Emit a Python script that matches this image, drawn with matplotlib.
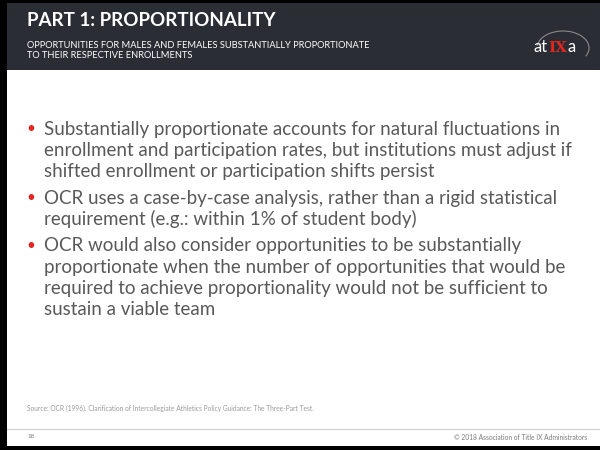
import matplotlib
matplotlib.use("Agg")
from matplotlib import pyplot as plt
from matplotlib.patches import Rectangle, Arc

title = "PART 1: PROPORTIONALITY"
subtitle = ["OPPORTUNITIES FOR MALES AND FEMALES SUBSTANTIALLY PROPORTIONATE",
            "TO THEIR RESPECTIVE ENROLLMENTS"]
bullets = [
    ["Substantially proportionate accounts for natural fluctuations in",
     "enrollment and participation rates, but institutions must adjust if",
     "shifted enrollment or participation shifts persist"],
    ["OCR uses a case-by-case analysis, rather than a rigid statistical",
     "requirement (e.g.: within 1% of student body)"],
    ["OCR would also consider opportunities to be substantially",
     "proportionate when the number of opportunities that would be",
     "required to achieve proportionality would not be sufficient to",
     "sustain a viable team"],
]
source = "Source: OCR (1996). Clarification of Intercollegiate Athletics Policy Guidance: The Three-Part Test."
page = "18"
copyright = "\u00a9 2018 Association of Title IX Administrators"

plt.rcParams['font.family'] = ['Lato', 'DejaVu Sans']

fig = plt.figure(figsize=(6, 4.5), dpi=100)
ax = fig.add_axes([0, 0, 1, 1])
ax.set_xlim(0, 600)
ax.set_ylim(450, 0)
ax.axis('off')

# frame and header
ax.add_patch(Rectangle((0, 0), 600, 450, facecolor='black', edgecolor='none'))
ax.add_patch(Rectangle((7, 3), 593, 443, facecolor='white', edgecolor='none'))
ax.add_patch(Rectangle((7, 3), 593, 67, facecolor='#2b2d35', edgecolor='none'))
ax.plot([7, 600], [429, 429], color='#d0d0d0', lw=0.8)

ax.text(27, 21, title, color='white', fontsize=13.5, fontweight='bold', va='center')
ax.text(27, 45, subtitle[0], color='white', fontsize=6.7, va='center')
ax.text(27, 55, subtitle[1], color='white', fontsize=6.7, va='center')

# logo
ax.add_patch(Arc((563, 48), 52, 34, theta1=185, theta2=380, color='#8a8a8a', lw=0.8))
ax.text(548, 47, "at", color='white', fontsize=12, ha='right', va='center')
ax.text(557.5, 48, "IX", color='#e0261f', fontsize=11, ha='center', va='center',
        family='DejaVu Serif', fontweight='bold')
ax.text(567, 47, "a", color='white', fontsize=12, ha='left', va='center')

# bullets
y = 129
for lines in bullets:
    ax.text(31, y, "\u2022", color='#e0261f', fontsize=11, ha='center', va='center')
    for ln in lines:
        ax.text(44, y, ln, color='#595959', fontsize=13.5, va='center')
        y += 21.2
    y += 5.5

ax.text(27, 408, source, color='#9a9a9a', fontsize=4.8, va='center')
ax.text(27, 437, page, color='#7a7a7a', fontsize=4.5, va='center')
ax.text(587, 437, copyright, color='#7a7a7a', fontsize=4.8, va='center', ha='right')

fig.savefig("out.png", dpi=100)
